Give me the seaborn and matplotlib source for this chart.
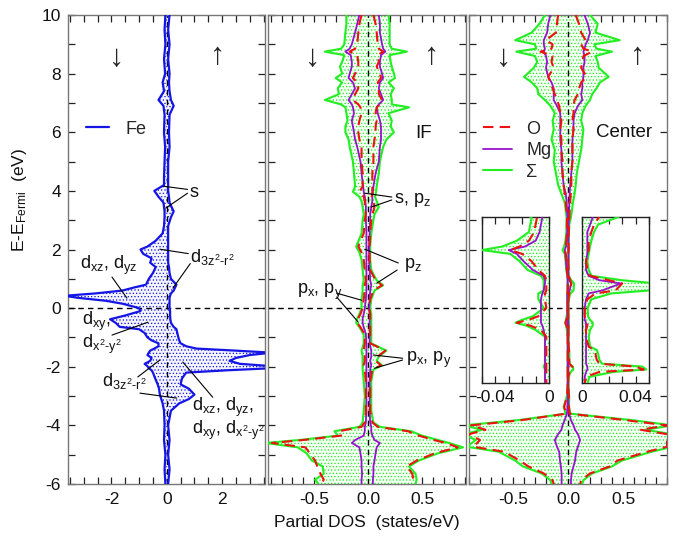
import numpy as np
import pandas as pd
import matplotlib
matplotlib.use("Agg")
import matplotlib.pyplot as plt
from matplotlib.lines import Line2D
from matplotlib.ticker import MultipleLocator, FixedLocator, FuncFormatter
import seaborn as sns

# ---------------- data ----------------
# Fe panel (spin-down stored negative, spin-up positive)
E_fe = [10, 9.5, 9.0, 8.5, 8.0, 7.7, 7.4, 7.1, 6.9, 6.6,
        6.0, 5.5, 5.0, 4.5, 4.2, 4.0, 3.8, 3.6, 3.3, 3.1,
        2.8, 2.55, 2.3, 2.1, 2.0, 1.85, 1.7, 1.55, 1.4, 1.2,
        1.0, 0.8, 0.7, 0.6, 0.5, 0.42, 0.35, 0.25, 0.15, 0.0,
        -0.1, -0.25, -0.38, -0.5, -0.64, -0.72, -0.85, -1.0, -1.1, -1.2,
        -1.3, -1.38, -1.45, -1.52, -1.6, -1.7, -1.8, -1.9, -1.98, -2.05,
        -2.12, -2.2, -2.4, -2.6, -2.75, -2.95, -3.1, -3.25, -3.5, -4.0,
        -4.5, -5.0, -5.5, -6.0]
fe_down = [-0.05, -0.08, -0.05, -0.10, -0.06, -0.15, -0.10, -0.30, -0.12, -0.08,
           -0.10, -0.06, -0.08, -0.10, -0.10, -0.45, -0.30, -0.12, -0.08, -0.08,
           -0.10, -0.15, -0.40, -0.70, -0.95, -0.85, -0.55, -0.60, -0.40, -0.50,
           -0.65, -0.75, -1.20, -1.60, -2.60, -3.70, -3.20, -2.20, -1.60, -1.00,
           -0.95, -1.50, -2.05, -1.85, -1.70, -1.00, -0.80, -0.70, -0.55, -0.30,
           -0.30, -0.45, -0.60, -0.65, -0.70, -0.55, -0.60, -0.80, -0.70, -0.65,
           -0.55, -0.50, -0.42, -0.33, -0.28, -0.25, -0.20, -0.15, -0.10, -0.08,
           -0.10, -0.05, -0.08, -0.05]
fe_up = [0.10, 0.05, 0.10, 0.05, 0.10, 0.08, 0.10, 0.15, 0.25, 0.10,
         0.08, 0.10, 0.05, 0.05, 0.05, 0.05, 0.08, 0.10, 0.25, 0.15,
         0.05, 0.05, 0.05, 0.05, 0.05, 0.05, 0.05, 0.05, 0.08, 0.10,
         0.15, 0.35, 0.30, 0.25, 0.15, 0.12, 0.10, 0.10, 0.10, 0.10,
         0.12, 0.12, 0.13, 0.15, 0.25, 0.35, 0.38, 0.42, 0.45, 0.50,
         0.70, 1.07, 2.50, 3.80, 3.00, 2.50, 2.27, 2.64, 3.80, 3.80,
         2.20, 0.70, 0.55, 0.50, 0.80, 1.00, 0.80, 0.45, 0.15, 0.05,
         0.10, 0.05, 0.10, 0.05]

# Interface (IF) panel
E_if = [10, 9.7, 9.4, 9.0, 8.85, 8.75, 8.63, 8.4, 8.24, 8.0,
        7.85, 7.7, 7.5, 7.3, 7.1, 6.95, 6.85, 6.65, 6.4, 6.2,
        6.0, 5.75, 5.5, 5.0, 4.6, 4.15, 3.97, 3.8, 3.65, 3.45,
        3.2, 3.0, 2.55, 2.1, 1.9, 1.65, 1.3, 0.95, 0.78, 0.6,
        0.3, 0.0, -0.2, -0.35, -0.5, -0.65, -0.9, -1.2, -1.45, -1.65,
        -1.8, -1.95, -2.1, -2.5, -3.0, -3.5, -3.9, -4.05, -4.2, -4.35,
        -4.5, -4.6, -4.75, -4.95, -5.2, -5.4, -5.65, -5.85, -6.0]
if_sum_down = [-0.20, -0.20, -0.21, -0.22, -0.25, -0.40, -0.22, -0.24, -0.26, -0.24,
               -0.30, -0.24, -0.28, -0.27, -0.40, -0.25, -0.21, -0.20, -0.19, -0.21,
               -0.21, -0.18, -0.17, -0.14, -0.13, -0.12, -0.14, -0.08, -0.06, -0.05,
               -0.04, -0.05, -0.06, -0.11, -0.08, -0.06, -0.05, -0.04, -0.05, -0.05,
               -0.06, -0.06, -0.08, -0.10, -0.11, -0.08, -0.04, -0.04, -0.06, -0.05,
               -0.05, -0.05, -0.05, -0.04, -0.03, -0.04, -0.05, -0.08, -0.31, -0.28,
               -0.64, -0.95, -0.65, -0.57, -0.52, -0.42, -0.41, -0.49, -0.46]
if_sum_up = [0.19, 0.20, 0.20, 0.20, 0.22, 0.36, 0.20, 0.21, 0.22, 0.24,
             0.25, 0.19, 0.24, 0.21, 0.22, 0.22, 0.38, 0.19, 0.22, 0.21,
             0.24, 0.17, 0.14, 0.11, 0.10, 0.08, 0.075, 0.065, 0.08, 0.10,
             0.06, 0.05, 0.03, 0.02, 0.02, 0.02, 0.03, 0.08, 0.14, 0.06,
             0.03, 0.02, 0.03, 0.03, 0.03, 0.03, 0.03, 0.03, 0.17, 0.10,
             0.08, 0.13, 0.05, 0.03, 0.03, 0.03, 0.05, 0.11, 0.40, 0.50,
             0.65, 0.75, 0.88, 0.65, 0.47, 0.38, 0.44, 0.45, 0.44]
if_o_down = [-0.06, -0.08, -0.09, -0.10, -0.12, -0.17, -0.10, -0.09, -0.09, -0.12,
             -0.14, -0.10, -0.09, -0.12, -0.14, -0.09, -0.07, -0.06, -0.08, -0.09,
             -0.09, -0.08, -0.06, -0.06, -0.05, -0.05, -0.08, -0.04, -0.03, -0.03,
             -0.02, -0.03, -0.04, -0.09, -0.06, -0.04, -0.03, -0.02, -0.03, -0.03,
             -0.04, -0.05, -0.07, -0.09, -0.10, -0.07, -0.03, -0.03, -0.04, -0.03,
             -0.03, -0.04, -0.03, -0.02, -0.02, -0.02, -0.03, -0.06, -0.27, -0.25,
             -0.60, -0.89, -0.58, -0.54, -0.49, -0.47, -0.44, -0.41, -0.43]
if_o_up = [0.05, 0.07, 0.08, 0.09, 0.10, 0.14, 0.09, 0.10, 0.08, 0.11,
           0.12, 0.09, 0.10, 0.10, 0.13, 0.11, 0.08, 0.07, 0.08, 0.07,
           0.07, 0.06, 0.05, 0.05, 0.04, 0.04, 0.04, 0.035, 0.05, 0.06,
           0.04, 0.03, 0.02, 0.015, 0.015, 0.015, 0.02, 0.07, 0.13, 0.05,
           0.02, 0.01, 0.02, 0.02, 0.02, 0.02, 0.02, 0.02, 0.16, 0.09,
           0.07, 0.12, 0.04, 0.02, 0.02, 0.02, 0.04, 0.09, 0.37, 0.47,
           0.61, 0.72, 0.83, 0.62, 0.45, 0.36, 0.41, 0.42, 0.41]
if_mg_down = [-0.08, -0.10, -0.12, -0.15, -0.17, -0.21, -0.16, -0.15, -0.15, -0.17,
              -0.18, -0.14, -0.12, -0.15, -0.18, -0.15, -0.14, -0.13, -0.15, -0.14,
              -0.13, -0.12, -0.10, -0.07, -0.06, -0.045, -0.04, -0.03, -0.025, -0.02,
              -0.02, -0.02, -0.015, -0.015, -0.015, -0.015, -0.015, -0.015, -0.015, -0.015,
              -0.02, -0.03, -0.04, -0.05, -0.05, -0.04, -0.02, -0.015, -0.015, -0.015,
              -0.015, -0.015, -0.015, -0.015, -0.015, -0.015, -0.02, -0.03, -0.03, -0.04,
              -0.12, -0.15, -0.08, -0.07, -0.06, -0.06, -0.055, -0.06, -0.06]
if_mg_up = [0.10, 0.11, 0.11, 0.13, 0.14, 0.16, 0.12, 0.11, 0.11, 0.13,
            0.14, 0.11, 0.10, 0.12, 0.14, 0.10, 0.08, 0.09, 0.11, 0.12,
            0.12, 0.12, 0.11, 0.10, 0.07, 0.05, 0.045, 0.04, 0.04, 0.03,
            0.02, 0.02, 0.015, 0.01, 0.01, 0.01, 0.015, 0.02, 0.03, 0.02,
            0.015, 0.01, 0.015, 0.015, 0.015, 0.015, 0.015, 0.015, 0.03, 0.03,
            0.02, 0.03, 0.02, 0.015, 0.015, 0.015, 0.02, 0.03, 0.03, 0.04,
            0.06, 0.11, 0.08, 0.07, 0.06, 0.05, 0.05, 0.045, 0.045]

# Center panel
E_ce = [10, 9.7, 9.4, 9.14, 9.0, 8.85, 8.75, 8.6, 8.4, 8.2,
        7.89, 7.7, 7.5, 7.3, 7.1, 6.9, 6.65, 6.4, 6.1, 5.75,
        5.4, 5.0, 4.6, 4.2, 3.9, 3.6, 3.3, 3.09, 2.85, 2.6,
        2.3, 2.1, 1.98, 1.85, 1.6, 1.3, 1.1, 0.95, 0.84, 0.6,
        0.5, 0.3, 0.0, -0.28, -0.4, -0.5, -0.6, -0.75, -0.98, -1.32,
        -1.43, -1.55, -1.66, -1.77, -1.9, -2.0, -2.1, -2.18, -2.35, -2.6,
        -3.0, -3.37, -3.6, -3.82, -4.0, -4.15, -4.3, -4.5, -4.73, -4.9,
        -5.2, -5.4, -5.64, -5.87, -6.0]
ce_sum_down = [-0.21, -0.26, -0.33, -0.48, -0.30, -0.29, -0.47, -0.30, -0.28, -0.31,
               -0.40, -0.33, -0.28, -0.27, -0.21, -0.16, -0.12, -0.14, -0.13, -0.15,
               -0.12, -0.13, -0.11, -0.09, -0.06, -0.03, -0.02, -0.013, -0.014, -0.015,
               -0.024, -0.035, -0.05, -0.029, -0.022, -0.016, -0.006, -0.004, -0.004, -0.004,
               -0.008, -0.008, -0.004, -0.012, -0.020, -0.025, -0.017, -0.010, -0.003, -0.003,
               -0.003, -0.003, -0.003, -0.003, -0.003, -0.004, -0.003, -0.003, -0.003, -0.003,
               -0.010, -0.040, -0.020, -0.45, -0.95, -0.78, -0.95, -0.84, -0.92, -0.63,
               -0.48, -0.41, -0.24, -0.16, -0.15]
ce_sum_up = [0.20, 0.27, 0.25, 0.47, 0.24, 0.26, 0.40, 0.25, 0.27, 0.28,
             0.37, 0.29, 0.26, 0.22, 0.20, 0.16, 0.13, 0.12, 0.14, 0.13,
             0.12, 0.10, 0.08, 0.07, 0.06, 0.045, 0.035, 0.026, 0.012, 0.009,
             0.007, 0.006, 0.0055, 0.005, 0.004, 0.005, 0.0072, 0.030, 0.056, 0.050,
             0.022, 0.007, 0.0042, 0.0045, 0.006, 0.008, 0.008, 0.006, 0.005, 0.006,
             0.011, 0.012, 0.0125, 0.013, 0.015, 0.045, 0.048, 0.0235, 0.0055, 0.004,
             0.010, 0.010, 0.020, 0.58, 0.95, 0.70, 0.95, 0.95, 0.95, 0.76,
             0.49, 0.40, 0.22, 0.14, 0.13]
ce_o_down = [-0.09, -0.10, -0.11, -0.20, -0.14, -0.15, -0.25, -0.14, -0.15, -0.13,
             -0.18, -0.16, -0.14, -0.12, -0.10, -0.08, -0.07, -0.06, -0.07, -0.06,
             -0.06, -0.05, -0.05, -0.04, -0.03, -0.02, -0.014, -0.009, -0.010, -0.011,
             -0.015, -0.022, -0.029, -0.020, -0.013, -0.008, -0.003, -0.002, -0.002, -0.002,
             -0.003, -0.003, -0.002, -0.008, -0.015, -0.024, -0.014, -0.006, -0.002, -0.002,
             -0.002, -0.002, -0.002, -0.002, -0.002, -0.002, -0.002, -0.002, -0.002, -0.002,
             -0.008, -0.035, -0.015, -0.42, -0.88, -0.75, -0.90, -0.80, -0.86, -0.58,
             -0.44, -0.36, -0.22, -0.14, -0.13]
ce_o_up = [0.07, 0.10, 0.12, 0.16, 0.12, 0.14, 0.22, 0.14, 0.13, 0.12,
           0.17, 0.12, 0.10, 0.09, 0.06, 0.05, 0.05, 0.04, 0.05, 0.04,
           0.04, 0.04, 0.03, 0.03, 0.025, 0.02, 0.015, 0.0125, 0.009, 0.007,
           0.005, 0.005, 0.005, 0.004, 0.003, 0.004, 0.006, 0.020, 0.030, 0.025,
           0.010, 0.004, 0.002, 0.002, 0.003, 0.004, 0.004, 0.003, 0.003, 0.005,
           0.009, 0.010, 0.0105, 0.011, 0.013, 0.040, 0.046, 0.013, 0.003, 0.002,
           0.008, 0.008, 0.015, 0.52, 0.90, 0.66, 0.90, 0.90, 0.90, 0.72,
           0.45, 0.38, 0.20, 0.12, 0.11]
ce_mg_down = [-0.16, -0.18, -0.19, -0.22, -0.22, -0.21, -0.22, -0.20, -0.19, -0.20,
              -0.18, -0.15, -0.13, -0.13, -0.13, -0.10, -0.07, -0.07, -0.07, -0.07,
              -0.06, -0.06, -0.05, -0.04, -0.02, -0.012, -0.008, -0.005, -0.006, -0.007,
              -0.010, -0.018, -0.030, -0.024, -0.019, -0.012, -0.004, -0.003, -0.003, -0.004,
              -0.005, -0.006, -0.006, -0.006, -0.006, -0.006, -0.005, -0.004, -0.003, -0.003,
              -0.003, -0.003, -0.003, -0.003, -0.003, -0.003, -0.003, -0.003, -0.003, -0.003,
              -0.003, -0.005, -0.010, -0.03, -0.05, -0.06, -0.09, -0.12, -0.10, -0.08,
              -0.073, -0.065, -0.058, -0.058, -0.058]
ce_mg_up = [0.15, 0.18, 0.20, 0.18, 0.16, 0.15, 0.14, 0.15, 0.15, 0.14,
            0.14, 0.13, 0.13, 0.12, 0.13, 0.09, 0.06, 0.05, 0.05, 0.04,
            0.04, 0.04, 0.03, 0.02, 0.015, 0.012, 0.009, 0.008, 0.006, 0.004,
            0.004, 0.004, 0.004, 0.004, 0.003, 0.003, 0.005, 0.013, 0.029, 0.015,
            0.005, 0.003, 0.002, 0.002, 0.002, 0.003, 0.003, 0.003, 0.003, 0.003,
            0.003, 0.003, 0.003, 0.003, 0.003, 0.004, 0.004, 0.003, 0.002, 0.002,
            0.002, 0.005, 0.010, 0.027, 0.05, 0.064, 0.09, 0.11, 0.09, 0.075,
            0.064, 0.05, 0.033, 0.027, 0.027]

fe_ticks = [-2, 0, 2]
dos_ticks = [-0.5, 0.0, 0.5]
inset_left_ticks = [-0.04, 0]
inset_right_ticks = [0, 0.04]

# ---------------- style ----------------
sns.set_theme(style="ticks")
plt.rcParams["font.family"] = ["Liberation Sans", "DejaVu Sans"]
plt.rcParams["mathtext.fontset"] = "custom"
plt.rcParams["mathtext.rm"] = "Liberation Sans"
plt.rcParams["mathtext.it"] = "Liberation Sans"
plt.rcParams["mathtext.bf"] = "Liberation Sans"
plt.rcParams["axes.unicode_minus"] = False
plt.rcParams["hatch.linewidth"] = 0.5

BLUE = "#1515e6"
GREEN = "#22ee22"
RED = "#ee1111"
PURPLE = "#9a10d0"
DASH = (0, (4, 3))

W, H = 673, 539
fig = plt.figure(figsize=(W / 100, H / 100), dpi=100)


def px_axes(x0, y0, x1, y1):
    return fig.add_axes([x0 / W, 1 - y1 / H, (x1 - x0) / W, (y1 - y0) / H])


ax1 = px_axes(68, 15, 265, 484)
ax2 = px_axes(268, 15, 466, 484)
ax3 = px_axes(469, 15, 667, 484)


def curve(ax, E, vals, color, lw, ls="-", z=3):
    df = pd.DataFrame({"E": E, "v": vals})
    sns.lineplot(data=df, x="v", y="E", orient="y", sort=False, estimator=None,
                 color=color, lw=lw, linestyle=ls, ax=ax, legend=False, zorder=z)


def shade(ax, E, vals, fc, hc):
    ax.fill_betweenx(E, 0, vals, facecolor=fc, edgecolor=hc, hatch=".....",
                     linewidth=0, zorder=1)


def frame(ax, xlim, xticks, minor, fmt, labelleft=False):
    ax.set_xlim(*xlim)
    ax.set_ylim(-6, 10)
    ax.xaxis.set_major_locator(FixedLocator(xticks))
    ax.xaxis.set_minor_locator(MultipleLocator(minor))
    ax.xaxis.set_major_formatter(FuncFormatter(fmt))
    ax.yaxis.set_major_locator(MultipleLocator(2))
    ax.yaxis.set_minor_locator(MultipleLocator(1))
    ax.tick_params(which="both", direction="in", top=True, right=True,
                   length=5, width=0.9, color="#222222", labelsize=12.5,
                   labelcolor="#111111")
    ax.tick_params(axis="x", pad=6)
    ax.tick_params(axis="y", pad=5, labelleft=labelleft)
    for s in ax.spines.values():
        s.set_color("#777777")
        s.set_linewidth(1.0)
    ax.set_xlabel("")
    ax.set_ylabel("")
    ax.axvline(0, color="black", lw=1.0, ls=DASH, zorder=2)
    ax.axhline(0, color="black", lw=1.0, ls=DASH, zorder=2)


# ---- Fe panel ----
shade(ax1, E_fe, fe_down, "#f3f4ff", BLUE)
shade(ax1, E_fe, fe_up, "#f3f4ff", BLUE)
curve(ax1, E_fe, fe_down, BLUE, 1.6)
curve(ax1, E_fe, fe_up, BLUE, 1.6)
frame(ax1, (-3.57, 3.55), fe_ticks, 0.5, lambda v, p: f"{v:g}", labelleft=True)
ax1.legend(handles=[Line2D([], [], color=BLUE, lw=1.6)], labels=["Fe"],
           loc="upper left", bbox_to_anchor=(0.09, 0.775), frameon=False,
           fontsize=13, handlelength=1.3, handletextpad=0.9, borderpad=0,
           borderaxespad=0)


# ---- IF panel ----
def three(ax, E, sd, su, od, ou, md, mu):
    shade(ax, E, sd, "#f2fff2", GREEN)
    shade(ax, E, su, "#f2fff2", GREEN)
    curve(ax, E, sd, GREEN, 1.5, z=3)
    curve(ax, E, su, GREEN, 1.5, z=3)
    curve(ax, E, md, PURPLE, 1.3, z=4)
    curve(ax, E, mu, PURPLE, 1.3, z=4)
    curve(ax, E, od, RED, 1.5, ls=(0, (5, 3)), z=5)
    curve(ax, E, ou, RED, 1.5, ls=(0, (5, 3)), z=5)


three(ax2, E_if, if_sum_down, if_sum_up, if_o_down, if_o_up, if_mg_down, if_mg_up)
frame(ax2, (-0.926, 0.907), dos_ticks, 0.1, lambda v, p: f"{v:.1f}")

# ---- Center panel ----
three(ax3, E_ce, ce_sum_down, ce_sum_up, ce_o_down, ce_o_up, ce_mg_down, ce_mg_up)
frame(ax3, (-0.9, 0.9), dos_ticks, 0.1, lambda v, p: f"{v:.1f}")
ax3.legend(handles=[Line2D([], [], color=RED, lw=1.5, ls=(0, (5, 3))),
                    Line2D([], [], color=PURPLE, lw=1.3),
                    Line2D([], [], color=GREEN, lw=1.5)],
           labels=["O", "Mg", "\u03A3"], loc="upper left",
           bbox_to_anchor=(0.07, 0.775), frameon=False, fontsize=13,
           handlelength=1.6, handletextpad=0.8, labelspacing=0.25,
           borderpad=0, borderaxespad=0)


# ---- insets ----
def inset(x0, x1, xlim, ticks, fmt, sd, od, md):
    ax = px_axes(x0, 217, x1, 383)
    ax.set_facecolor("white")
    shade(ax, E_ce, sd, "#f2fff2", GREEN)
    curve(ax, E_ce, sd, GREEN, 1.5, z=3)
    curve(ax, E_ce, md, PURPLE, 1.3, z=4)
    curve(ax, E_ce, od, RED, 1.5, ls=(0, (5, 3)), z=5)
    ax.set_xlim(*xlim)
    ax.set_ylim(-2.56, 3.11)
    ax.xaxis.set_major_locator(FixedLocator(ticks))
    ax.xaxis.set_minor_locator(MultipleLocator(0.01))
    ax.xaxis.set_major_formatter(FuncFormatter(fmt))
    ax.tick_params(which="both", direction="in", top=True, bottom=True,
                   left=False, right=False, labelleft=False, length=5,
                   width=0.9, color="#222222", labelsize=12.5, pad=5,
                   labelcolor="#111111")
    ax.set_xlabel("")
    ax.set_ylabel("")
    for s in ax.spines.values():
        s.set_color("#222222")
        s.set_linewidth(1.0)
    ax.axhline(0, color="black", lw=1.0, ls=DASH, zorder=2)
    return ax


inset(482, 549, (-0.05, 0), inset_left_ticks,
      lambda v, p: "0" if abs(v) < 1e-9 else f"{v:.2f}",
      ce_sum_down, ce_o_down, ce_mg_down)
inset(582, 649, (0, 0.05), inset_right_ticks,
      lambda v, p: "0" if abs(v) < 1e-9 else f"{v:.2f}",
      ce_sum_up, ce_o_up, ce_mg_up)


# ---- text annotations ----
def note(ax, text, pos, lines, ha="left", fs=13):
    ax.text(pos[0], pos[1], text, ha=ha, va="center", fontsize=fs, zorder=6,
            color="#111111", linespacing=0.95)
    for a, b in lines:
        ax.annotate("", xy=b, xytext=a,
                    arrowprops=dict(arrowstyle="-", color="black", lw=0.8,
                                    shrinkA=0, shrinkB=0), zorder=6)


note(ax1, "s", (0.82, 3.96), [((0.75, 4.05), (-0.13, 4.16)), ((0.75, 3.92), (-0.04, 3.41))])
note(ax1, r"d$_{3z^2\text{-}r^2}$", (0.85, 1.74), [((0.78, 1.86), (-0.25, 2.01)), ((0.85, 1.52), (0.22, 0.68))])
note(ax1, r"d$_{xz}$, d$_{yz}$", (-3.13, 1.47), [((-1.98, 1.06), (-1.44, 0.34))])
note(ax1, "d$_{xy}$,\nd$_{x^2\\text{-}y^2}$", (-3.06, -0.85), [((-1.98, -0.92), (-0.68, -0.48))])
note(ax1, r"d$_{3z^2\text{-}r^2}$", (-2.34, -2.5), [((-1.05, -2.35), (-0.25, -1.77)), ((-0.97, -2.9), (0.36, -3.07))])
note(ax1, "d$_{xz}$, d$_{yz}$,\nd$_{xy}$, d$_{x^2\\text{-}y^2}$", (0.9, -3.78), [((1.66, -3.04), (0.58, -1.84))])

note(ax2, r"s, p$_z$", (0.24, 3.69), [((0.22, 3.79), (-0.03, 3.92)), ((0.22, 3.69), (0.03, 3.45))])
note(ax2, r"p$_z$", (0.33, 1.47), [((0.28, 1.54), (-0.03, 2.01)), ((0.27, 1.3), (0.08, 0.85))])
note(ax2, r"p$_x$, p$_y$", (-0.66, 0.55), [((-0.29, 0.51), (-0.06, 0.27)), ((-0.29, 0.38), (-0.09, -0.48))])
note(ax2, r"p$_x$, p$_y$", (0.35, -1.77), [((0.32, -1.71), (0.05, -1.6)), ((0.32, -1.77), (0.06, -2.05))])
note(ax2, "IF", (0.51, 5.97), [], ha="center", fs=13.5)
note(ax3, "Center", (0.51, 6.0), [], ha="center", fs=13.5)

for ax, xd, xu in [(ax1, -1.8, 1.84), (ax2, -0.51, 0.59), (ax3, -0.59, 0.63)]:
    ax.text(xd, 8.55, "\u2193", ha="center", va="center", fontsize=22, zorder=6)
    ax.text(xu, 8.6, "\u2191", ha="center", va="center", fontsize=22, zorder=6)

fig.text(367 / W, 1 - 523 / H, "Partial DOS  (states/eV)", ha="center",
         va="center", fontsize=12.5, color="#111111")
fig.text(20 / W, 1 - 200 / H, r"E-E$_{\mathrm{Fermi}}$  (eV)", ha="center",
         va="center", rotation=90, fontsize=12.5, color="#111111")

fig.savefig("out.png", dpi=100, facecolor="white")
